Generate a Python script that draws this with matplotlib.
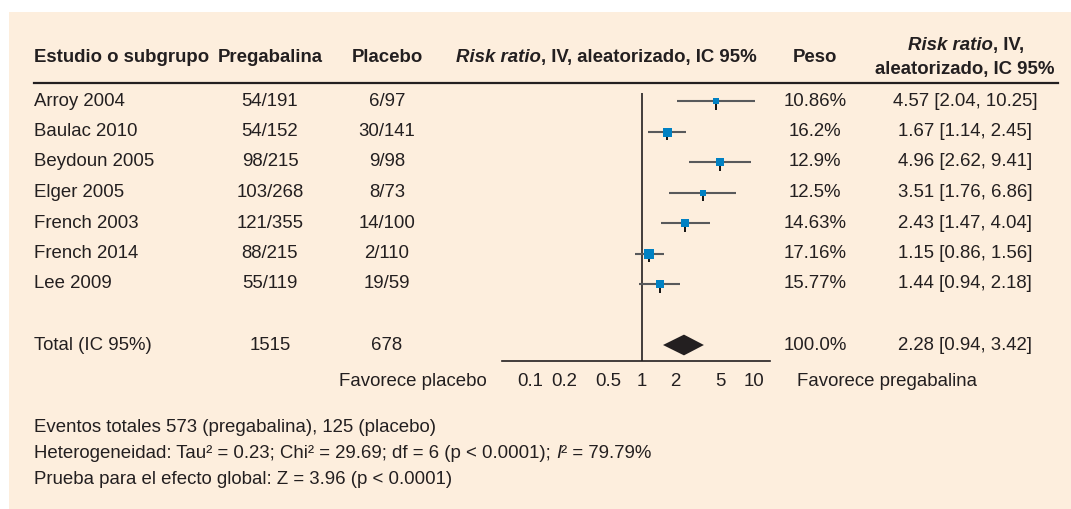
import numpy as np
import matplotlib
matplotlib.use("Agg")
import matplotlib.pyplot as plt
from matplotlib.patches import Polygon, Rectangle

# Study data
studies = ["Arroy 2004", "Baulac 2010", "Beydoun 2005", "Elger 2005",
           "French 2003", "French 2014", "Lee 2009"]
pregabalina = ["54/191", "54/152", "98/215", "103/268", "121/355", "88/215", "55/119"]
placebo = ["6/97", "30/141", "9/98", "8/73", "14/100", "2/110", "19/59"]
weights = [10.86, 16.2, 12.9, 12.5, 14.63, 17.16, 15.77]
weight_labels = ["10.86%", "16.2%", "12.9%", "12.5%", "14.63%", "17.16%", "15.77%"]
rr = [4.57, 1.67, 4.96, 3.51, 2.43, 1.15, 1.44]
rr_lo = [2.04, 1.14, 2.62, 1.76, 1.47, 0.86, 0.94]
rr_hi = [10.25, 2.45, 9.41, 6.86, 4.04, 1.56, 2.18]

total_label = "Total (IC 95%)"
total_preg = "1515"
total_plac = "678"
total_weight = "100.0%"
total_rr_text = "2.28 [0.94, 3.42]"
# diamond as drawn in the figure
diamond_lo, diamond_est, diamond_hi = 1.54, 2.37, 3.57

ticks = [0.1, 0.2, 0.5, 1, 2, 5, 10]
tick_labels = ["0.1", "0.2", "0.5", "1", "2", "5", "10"]

footer1 = "Eventos totales 573 (pregabalina), 125 (placebo)"
footer2 = "Heterogeneidad: Tau² = 0.23; Chi² = 29.69; df = 6 (p < 0.0001); "
footer2b = "² = 79.79%"
footer3 = "Prueba para el efecto global: Z = 3.96 (p < 0.0001)"

plt.rcParams['font.family'] = ['Liberation Sans', 'DejaVu Sans']
fs = 13.4

W, H = 1071, 509
fig = plt.figure(figsize=(W / 100, H / 100), dpi=100)
fig.patch.set_facecolor('white')

bg = fig.add_axes([0, 0, 1, 1])
bg.set_xlim(0, W)
bg.set_ylim(H, 0)
bg.axis('off')
bg.add_patch(Rectangle((9, 12), W - 9, H - 12, facecolor='#fdeedd', edgecolor='none'))

txt = '#231f20'

# row layout (pixels)
row0, dy = 101, 30.5
total_row = 8
rows_y = [row0 + i * dy for i in range(len(studies))]
total_y = row0 + total_row * dy

# header
hy = 57
bg.text(34, hy, "Estudio o subgrupo", fontsize=fs, fontweight='bold', color=txt, va='center')
bg.text(270, hy, "Pregabalina", fontsize=fs, fontweight='bold', color=txt, va='center', ha='center')
bg.text(387, hy, "Placebo", fontsize=fs, fontweight='bold', color=txt, va='center', ha='center')
t1 = bg.text(456, hy, "Risk ratio", fontsize=fs, fontweight='bold', style='italic', color=txt, va='center')
bg.annotate(", IV, aleatorizado, IC 95%", xy=(1, 0.5), xycoords=t1, va='center', ha='left',
            fontsize=fs, fontweight='bold', color=txt)
bg.text(815, hy, "Peso", fontsize=fs, fontweight='bold', color=txt, va='center', ha='center')
t2 = bg.text(908, 45, "Risk ratio", fontsize=fs, fontweight='bold', style='italic', color=txt, va='center')
bg.annotate(", IV,", xy=(1, 0.5), xycoords=t2, va='center', ha='left',
            fontsize=fs, fontweight='bold', color=txt)
bg.text(965, 69, "aleatorizado, IC 95%", fontsize=fs, fontweight='bold', color=txt, va='center', ha='center')
bg.plot([34, 1058], [83, 83], color=txt, lw=1.6)

# table rows
for i, y in enumerate(rows_y):
    bg.text(34, y, studies[i], fontsize=fs, color=txt, va='center')
    bg.text(270, y, pregabalina[i], fontsize=fs, color=txt, va='center', ha='center')
    bg.text(387, y, placebo[i], fontsize=fs, color=txt, va='center', ha='center')
    bg.text(815, y, weight_labels[i], fontsize=fs, color=txt, va='center', ha='center')
    bg.text(965, y, "%.2f [%.2f, %.2f]" % (rr[i], rr_lo[i], rr_hi[i]),
            fontsize=fs, color=txt, va='center', ha='center')

bg.text(34, total_y, total_label, fontsize=fs, color=txt, va='center')
bg.text(270, total_y, total_preg, fontsize=fs, color=txt, va='center', ha='center')
bg.text(387, total_y, total_plac, fontsize=fs, color=txt, va='center', ha='center')
bg.text(815, total_y, total_weight, fontsize=fs, color=txt, va='center', ha='center')
bg.text(965, total_y, total_rr_text, fontsize=fs, color=txt, va='center', ha='center')

# forest axes: x=1 at 642 px, 112 px per decade
x1_px, decade = 642, 112
ax_left, ax_right = 502, 770
ax_top, ax_bottom = 93, 361
ax = fig.add_axes([ax_left / W, 1 - ax_bottom / H, (ax_right - ax_left) / W, (ax_bottom - ax_top) / H])
ax.set_xscale('log')
ax.set_xlim(10 ** ((ax_left - x1_px) / decade), 10 ** ((ax_right - x1_px) / decade))
ax.set_ylim((ax_bottom - row0) / dy, (ax_top - row0) / dy)
ax.patch.set_alpha(0)
for s in ['top', 'left', 'right']:
    ax.spines[s].set_visible(False)
ax.spines['bottom'].set_color(txt)
ax.spines['bottom'].set_linewidth(1.2)
ax.set_yticks([])
ax.set_xticks(ticks)
ax.set_xticklabels(tick_labels)
ax.minorticks_off()
ax.tick_params(axis='x', length=0, pad=9, labelsize=fs, labelcolor=txt)
ax.axvline(1, color=txt, lw=1.2)

idx = np.arange(len(studies))
ax.hlines(idx, rr_lo, rr_hi, color='#58595b', lw=1.5, zorder=2)
ax.plot(rr, idx + 0.12, '|', color='black', ms=7, mew=1.3, zorder=3)
for i in idx:
    ax.plot(rr[i], i, 's', color='#0081c3', ms=weights[i] * 0.4, mew=0, zorder=4)

hh = 0.34
ax.add_patch(Polygon([[diamond_lo, total_row], [diamond_est, total_row - hh],
                      [diamond_hi, total_row], [diamond_est, total_row + hh]],
                     closed=True, facecolor='#231f20', edgecolor='none', zorder=4))

bg.text(487, 381, "Favorece placebo", fontsize=fs, color=txt, va='center', ha='right')
bg.text(797, 381, "Favorece pregabalina", fontsize=fs, color=txt, va='center', ha='left')

# footer
bg.text(34, 428, footer1, fontsize=fs, color=txt, va='center')
t3 = bg.text(34, 454, footer2, fontsize=fs, color=txt, va='center')
t4 = bg.annotate("I", xy=(1, 0.5), xycoords=t3, va='center', ha='left',
                 fontsize=fs, style='italic', color=txt)
bg.annotate(footer2b, xy=(1, 0.5), xycoords=t4, va='center', ha='left',
            fontsize=fs, color=txt)
bg.text(34, 480, footer3, fontsize=fs, color=txt, va='center')

fig.savefig("out.png", dpi=100)
